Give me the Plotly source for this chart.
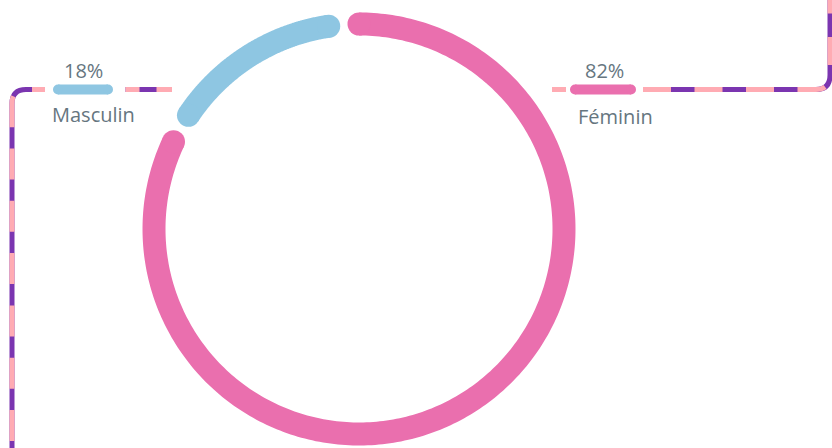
import numpy as np
import plotly.graph_objects as go

# ---- data ----
categories = ["Féminin", "Masculin"]
values = [82, 18]
pct_labels = ["82%", "18%"]
ring_colors = ["#ea6fae", "#8ec6e2"]

# ---- style ----
PURPLE = "#7b35b0"
DASH_PINK = "#ffabb3"
TEXT = "#66767f"
FONT = "Open Sans"
FONT_SIZE = 20
GAP_DEG = 8.5
RING_W = 23

W, H = 832, 448
CX, CY = 359, 229          # ring centre (px)
R_PX = 205                 # centreline radius (px)
HALF = 219                 # polar half-size (px)

fig = go.Figure()

# ---- ring arcs (polar) ----
total = sum(values)
deg = [v / total * 360 for v in values]
arcs = [
    (0.0, deg[0]),
    (deg[0] + GAP_DEG, 360.0 - GAP_DEG),
]
for (t0, t1), col, name in zip(arcs, ring_colors, categories):
    th = np.linspace(t0, t1, 300)
    sizes = np.zeros_like(th)
    sizes[0] = sizes[-1] = RING_W
    fig.add_trace(go.Scatterpolar(
        r=np.ones_like(th), theta=th, mode="lines+markers",
        line=dict(color=col, width=RING_W),
        marker=dict(color=col, size=sizes, opacity=1, line=dict(width=0)),
        name=name, hoverinfo="skip", showlegend=False,
    ))

fig.update_layout(
    polar=dict(
        domain=dict(x=[(CX - HALF) / W, (CX + HALF) / W],
                    y=[(H - CY - HALF) / H, (H - CY + HALF) / H]),
        bgcolor="rgba(0,0,0,0)",
        radialaxis=dict(visible=False, range=[0, HALF / R_PX]),
        angularaxis=dict(visible=False, rotation=90, direction="clockwise"),
    )
)

# ---- cartesian overlay in pixel units for legend / decorations ----
fig.update_layout(
    xaxis=dict(range=[0, W], visible=False, domain=[0, 1], fixedrange=True),
    yaxis=dict(range=[H, 0], visible=False, domain=[0, 1], fixedrange=True),
)

LY = 89.5
legend_bars = {"Masculin": (58, 108), "Féminin": (575, 631)}
legend_pct_pos = {"Masculin": (83, 70), "Féminin": (604, 70)}
legend_name_pos = {"Masculin": (93.5, 114), "Féminin": (615.5, 116)}

for name, col, pct in zip(categories, ring_colors, pct_labels):
    x0, x1 = legend_bars[name]
    fig.add_trace(go.Scatter(
        x=[x0, x1], y=[LY, LY], mode="lines+markers",
        line=dict(color=col, width=10), marker=dict(color=col, size=10),
        hoverinfo="skip", showlegend=False,
    ))
    px, py = legend_pct_pos[name]
    fig.add_annotation(x=px, y=py, text=pct, showarrow=False,
                       font=dict(family=FONT, size=FONT_SIZE, color=TEXT),
                       xanchor="center", yanchor="middle")
    nx, ny = legend_name_pos[name]
    fig.add_annotation(x=nx, y=ny, text=name, showarrow=False,
                       font=dict(family=FONT, size=FONT_SIZE, color=TEXT),
                       xanchor="center", yanchor="middle")

# ---- decorative dashed connector lines ----
def deco(path, dash, purple=True, width=5):
    if purple:
        fig.add_shape(type="path", path=path, xref="x", yref="y",
                      line=dict(color=PURPLE, width=width), layer="below")
    fig.add_shape(type="path", path=path, xref="x", yref="y",
                  line=dict(color=DASH_PINK, width=width, dash=dash), layer="below")

deco(f"M 12 493.3 L 12 103.5 Q 12 {LY} 26 {LY} L 45 {LY}", "31px,21.3px")
deco(f"M 125.5 {LY} L 172 {LY}", "14px,17px,16px,20px")
deco(f"M 552 {LY} L 566 {LY}", "solid", purple=False)
deco(f"M 643 {LY} L 816 {LY} Q 830 {LY} 830 75 L 830 -5", "28px,23.5px")

fig.update_layout(
    width=W, height=H,
    margin=dict(l=0, r=0, t=0, b=0),
    paper_bgcolor="white", plot_bgcolor="rgba(0,0,0,0)",
    showlegend=False,
)

fig.write_html("out.html",
               config={"displayModeBar": False, "staticPlot": True},
               post_script="document.body.style.margin='0';document.body.style.overflow='hidden';")
